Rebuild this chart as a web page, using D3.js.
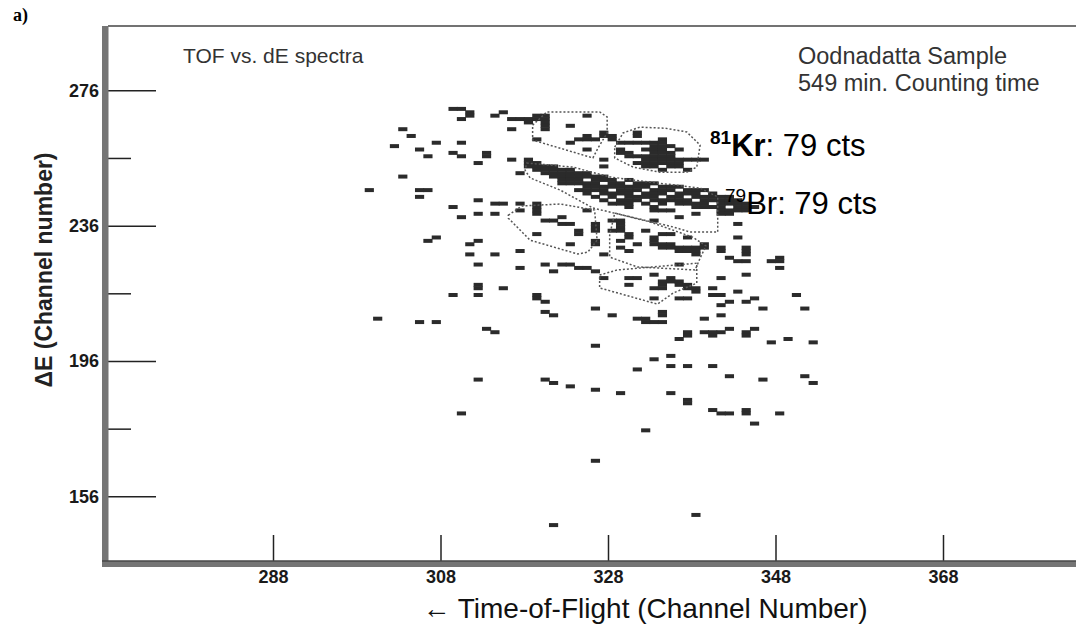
<!DOCTYPE html>
<html>
<head>
<meta charset="utf-8">
<script src="https://cdn.jsdelivr.net/npm/d3@7"></script>
<style>
body { margin: 0; background: #fff; }
svg { display: block; }
text { font-family: "Liberation Sans", Arial, sans-serif; }
</style>
</head>
<body>
<script>
// tick values (channel numbers)
var xTicks = [288, 308, 328, 348, 368];
var yTicksMajor = [156, 196, 236, 276];
var yTicksMinor = [176, 216, 256];

// hit cells as [TOF channel, dE channel]
var upperHits = [
	[309,270],[310,270],[311,269],[311,268],[310,267],[314,268],[315,269],[316,267],[317,267],[318,267],
	[319,267],[320,267],[319,268],[320,268],[318,266],[320,266],[320,265],[320,264],[316,264],[323,265],
	[325,268],[327,263],[319,261],[323,260],[324,261],[325,261],[326,261],[325,262],[327,262],[328,262],
	[328,261],[325,258],[327,255],[327,253],[303,264],[304,262],[302,259],[305,258],[306,256],[307,260],
	[310,260],[309,257],[310,256],[313,257],[313,256],[312,254],[316,255],[317,251],[303,250],[299,246],
	[305,246],[306,246],[305,244]
];

var krHits = [
	[329,260],[329,258],[329,257],[330,260],[330,257],[330,256],
	[331,263],[331,262],[331,260],[331,256],[331,254],
	[332,260],[332,258],[332,256],[332,255],[332,254],[332,253],
	[333,260],[333,259],[333,258],[333,257],[333,256],[333,255],[333,254],[333,253],
	[334,261],[334,260],[334,259],[334,258],[334,257],[334,256],[334,255],[334,254],[334,252],
	[335,259],[335,257],[335,256],[335,255],[335,254],[335,253],
	[336,258],[336,255],[336,254],[336,253],[337,255],[337,252],[338,255],[339,255]
];

var brHits = [
	[318,255],[318,254],[318,253],[319,254],[319,253],[319,252],[320,253],[320,252],[320,251],
	[321,253],[321,252],[321,251],[321,250],[322,252],[322,251],[322,250],[322,249],[322,248],
	[323,252],[323,251],[323,250],[323,249],[323,248],[324,251],[324,250],[324,249],[324,248],[324,246],
	[325,251],[325,250],[325,248],[325,247],[325,246],[325,245],[326,250],[326,249],[326,248],[326,247],[326,246],[326,244],
	[327,250],[327,249],[327,247],[327,246],[327,245],[327,243],[328,249],[328,248],[328,247],[328,245],[328,244],[328,242],
	[329,248],[329,247],[329,246],[329,245],[329,243],[329,242],[330,249],[330,247],[330,246],[330,245],[330,244],[330,243],
	[331,248],[331,247],[331,246],[331,244],[331,243],[332,248],[332,247],[332,245],[332,244],[332,242],
	[333,248],[333,246],[333,245],[333,244],[333,243],[334,247],[334,246],[334,245],[334,243],[334,242],
	[335,247],[335,246],[335,244],[335,243],[336,247],[336,245],[336,244],[336,243],[336,242],
	[337,246],[337,245],[337,243],[337,242],[338,246],[338,245],[338,244],[338,242],[338,241],
	[339,246],[339,244],[339,243],[339,242],[339,241],[340,245],[340,244],[340,243],[340,241],
	[341,244],[341,243],[341,242],[341,241],[341,240],[342,244],[342,243],[342,242],[342,240],
	[343,243],[343,242],[343,241],[343,240],[344,242],[344,241],[344,240],[345,241]
];

var middleHits = [
	[312,243],[314,242],[315,242],[317,242],[317,240],[309,241],[310,238],[312,239],[314,239],[319,242],
	[319,241],[319,240],[319,239],[320,237],[321,237],[322,238],[322,236],[323,236],[324,234],[324,233],
	[319,233],[326,236],[326,235],[326,234],[325,240],[323,230],[326,231],[326,230],[327,227],[328,237],
	[329,237],[329,236],[329,235],[329,234],[328,234],[330,233],[330,232],[329,231],[331,230],[329,229],
	[330,228],[332,234],[333,232],[333,231],[333,230],[334,233],[335,233],[334,230],[335,230],[334,229],
	[335,229],[336,229],[337,229],[338,229],[336,228],[337,228],[338,228],[338,227],[339,230],[339,229],
	[337,232],[341,229],[341,228],[344,229],[344,228],[344,227],[343,232],[343,236],[342,239],[341,239],
	[338,239],[336,238],[333,240],[334,240],[335,240],[333,241],[330,242],[330,241],[333,237],[306,231],
	[307,232],[311,230],[312,231],[311,227],[314,227],[317,228],[312,224],[317,223],[320,224],[322,224],
	[323,224],[324,223],[325,223],[326,222],[321,222],[327,220],[330,220],[331,220],[330,218],[333,221],
	[336,224],[334,219],[334,218],[334,217],[335,220],[335,219],[336,219],[336,218],[337,218],[337,217],
	[338,217],[338,216],[333,217],[342,226],[343,225],[344,225],[347,225],[348,226],[348,225],[348,223],
	[344,221],[341,220],[315,217],[312,218],[312,217]
];

var lowerHits = [
	[309,215],[312,215],[319,215],[319,214],[320,213],[320,210],[321,209],[326,211],[328,209],[331,208],
	[332,208],[332,207],[333,207],[334,207],[334,210],[334,209],[333,214],[336,214],[337,214],[340,217],
	[340,215],[341,215],[343,216],[341,212],[342,213],[344,213],[345,214],[346,211],[350,215],[351,211],
	[339,208],[341,209],[300,208],[305,207],[307,207],[313,205],[314,204],[336,202],[337,204],[337,203],
	[339,204],[340,204],[341,204],[340,203],[342,205],[344,204],[344,203],[345,205],[347,201],[349,202],
	[352,201],[326,200],[333,196],[335,197],[331,193],[335,194],[337,194],[340,194],[342,191],[346,190],
	[351,191],[352,189],[312,190],[320,190],[321,189],[323,188],[326,187],[329,186],[335,186],[337,184],
	[337,183],[340,181],[341,180],[342,180],[344,181],[344,180],[348,180],[345,177],[310,180],[332,175],
	[326,166],[338,150],[321,147]
];

// dotted gate outlines, [TOF, dE] corners
var gateUpper = [[319.0,265.7],[320.7,269.6],[327.0,269.6],[327.9,268.1],[327.9,263.4],[326.8,258.9],[326.2,256.0],[319.0,261.3]];
var gateKr = [[328.8,259.2],[329.8,263.4],[331.8,265.1],[334.8,264.8],[337.4,263.7],[339.0,259.8],[338.6,253.3],[337.4,251.8],[334.2,251.8],[331.0,253.3],[328.8,256.0]];
var gateBr = [[318.3,254.5],[323.8,253.3],[328.2,250.4],[333.9,248.6],[339.0,247.1],[341.1,244.5],[341.1,234.1],[337.8,234.1],[335.8,235.6],[329.8,239.1],[326.2,241.2],[322.3,246.5],[318.7,250.1],[318.1,252.4]];
var gateLeft = [[316.1,239.1],[317.7,241.8],[322.3,242.4],[326.4,240.6],[326.7,231.7],[325.6,228.2],[324.4,227.6],[318.7,231.7],[316.1,238.2]];
var gateMid = [[328.8,239.7],[333.0,237.1],[338.1,232.6],[339.7,230.0],[339.0,226.4],[338.4,222.9],[331.5,223.8],[328.2,226.7],[328.2,233.2]];
var gateLow = [[327.0,221.4],[329.1,222.9],[338.6,224.9],[338.6,219.0],[335.8,216.1],[333.9,212.8],[327.0,217.6]];

var w = 1076, h = 627;

var svg = d3.select("body").append("svg")
	.attr("width", w)
	.attr("height", h);

var x = d3.scaleLinear().domain([268, 384]).range([105.5, 1077]);
var y = d3.scaleLinear().domain([136, 295]).range([564, 26]);

var allHits = upperHits.concat(krHits, brHits, middleHits, lowerHits);

// one rect per channel cell
svg.append("g").selectAll("rect")
	.data(allHits)
	.enter()
	.append("rect")
	.attr("x", function(d) { return x(d[0]) - 0.4; })
	.attr("y", function(d) { return y(d[1] + 1) - 0.3; })
	.attr("width", function(d) { return x(d[0] + 1) - x(d[0]) + 0.8; })
	.attr("height", function(d) { return y(d[1]) - y(d[1] + 1) + 0.6; })
	.attr("fill", "#2b2b2b");

// gates
var gateLine = d3.line()
	.x(function(d) { return x(d[0]); })
	.y(function(d) { return y(d[1]); })
	.curve(d3.curveLinearClosed);

svg.append("g").selectAll("path")
	.data([gateUpper, gateKr, gateBr, gateLeft, gateMid, gateLow])
	.enter()
	.append("path")
	.attr("d", gateLine)
	.attr("fill", "none")
	.attr("stroke", "#555")
	.attr("stroke-width", 1.5)
	.attr("stroke-dasharray", "2,2");

// frame
var x0 = 108, yb = 562;
svg.append("line")
	.attr("x1", x0).attr("x2", w)
	.attr("y1", 26).attr("y2", 26)
	.attr("stroke", "#444").attr("stroke-width", 1.5);

// y axis, ticks pointing into the plot
var yAxis = d3.axisLeft(y)
	.tickValues(yTicksMajor)
	.tickSize(-48)
	.tickPadding(9);
var gy = svg.append("g")
	.attr("transform", "translate(" + x0 + ",0)")
	.call(yAxis);
var yAxisMinor = d3.axisLeft(y)
	.tickValues(yTicksMinor)
	.tickSize(-23)
	.tickFormat("");
var gy2 = svg.append("g")
	.attr("transform", "translate(" + x0 + ",0)")
	.call(yAxisMinor);

var xAxis = d3.axisBottom(x)
	.tickValues(xTicks)
	.tickSize(-27)
	.tickPadding(8);
var gx = svg.append("g")
	.attr("transform", "translate(0," + yb + ")")
	.call(xAxis);

[gy, gy2, gx].forEach(function(g) {
	g.select(".domain").remove();
	g.selectAll(".tick line").attr("stroke", "#222").attr("stroke-width", 1.5);
	g.selectAll(".tick text")
		.attr("fill", "#1a1a1a")
		.style("font-family", "'Liberation Sans', Arial, sans-serif")
		.style("font-size", "18px")
		.style("font-weight", "bold");
});

// thick grey axis bars
svg.append("rect")
	.attr("x", 102).attr("y", 26)
	.attr("width", 6.5).attr("height", 541)
	.attr("fill", "#757575");
svg.append("rect")
	.attr("x", 102).attr("y", 560.5)
	.attr("width", w - 102).attr("height", 6.5)
	.attr("fill", "#757575");
svg.append("line")
	.attr("x1", 102).attr("x2", w)
	.attr("y1", 561).attr("y2", 561)
	.attr("stroke", "#333").attr("stroke-width", 1.2);

// labels
svg.append("text")
	.attr("x", 13).attr("y", 21)
	.style("font-family", "'Liberation Serif', serif")
	.style("font-weight", "bold")
	.style("font-size", "18px")
	.text("a)");

svg.append("text")
	.attr("x", 183).attr("y", 63)
	.attr("fill", "#333")
	.style("font-size", "21px")
	.text("TOF vs. dE spectra");

svg.append("text")
	.attr("x", 798).attr("y", 64)
	.attr("fill", "#333")
	.style("font-size", "23.5px")
	.text("Oodnadatta Sample");
svg.append("text")
	.attr("x", 798).attr("y", 91)
	.attr("fill", "#333")
	.style("font-size", "23.5px")
	.text("549 min. Counting time");

var kr = svg.append("text")
	.attr("x", 710).attr("y", 156)
	.attr("fill", "#000")
	.style("font-size", "31px");
kr.append("tspan").attr("dy", -12).style("font-size", "19px").style("font-weight", "bold").text("81");
kr.append("tspan").attr("dy", 12).style("font-weight", "bold").text("Kr");
kr.append("tspan").text(": 79 cts");

var br = svg.append("text")
	.attr("x", 725).attr("y", 214)
	.attr("fill", "#000")
	.style("font-size", "31px");
br.append("tspan").attr("dy", -12).style("font-size", "19px").text("79");
br.append("tspan").attr("dy", 12).text("Br: 79 cts");

svg.append("text")
	.attr("x", 645).attr("y", 618)
	.attr("text-anchor", "middle")
	.attr("fill", "#111")
	.style("font-size", "28px")
	.text("\u2190 Time-of-Flight (Channel Number)");

svg.append("text")
	.attr("transform", "translate(52,270) rotate(-90)")
	.attr("text-anchor", "middle")
	.attr("fill", "#222")
	.style("font-size", "23px")
	.style("font-weight", "bold")
	.text("\u0394E (Channel number)");
</script>
</body>
</html>
